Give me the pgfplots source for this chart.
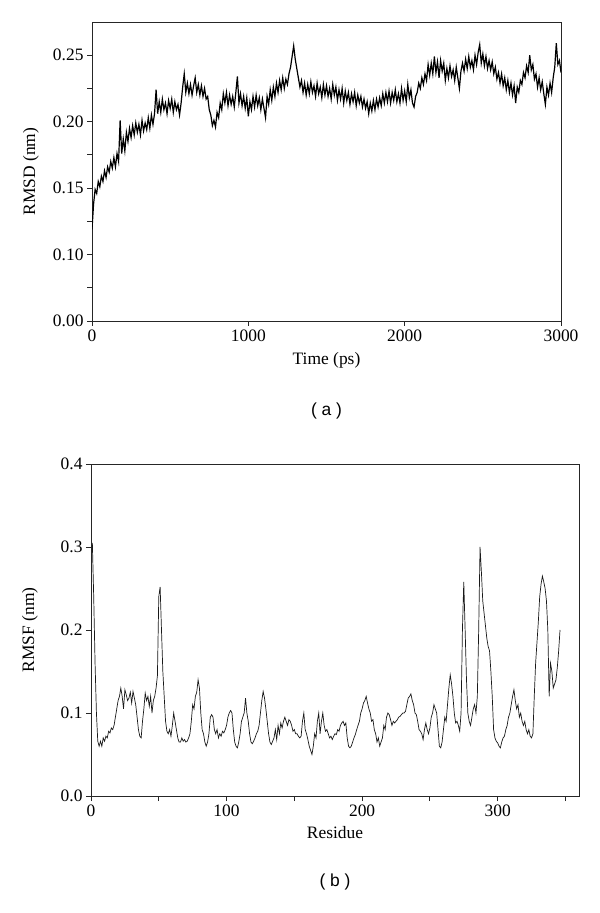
\documentclass[border=0pt]{standalone}
\usepackage{fontspec}
\setmainfont{Liberation Serif}
\newfontfamily\sansf{Liberation Sans}
\usepackage{pgfplots}
\pgfplotsset{compat=1.18}
\newcommand{\fs}{\fontsize{17.5}{20}\selectfont}
\pgfplotsset{
  myaxis/.style={
    scale only axis,
    axis line style={black!85, line width=0.9bp},
    tick style={black!85, line width=0.9bp},
    major tick length=5bp, minor tick length=5bp,
    tick align=outside, tick pos=left,
    tick label style={font=\fs},
    label style={font=\fs},
    /pgf/number format/assume math mode=true,
    /pgf/number format/1000 sep={},
    clip mode=individual,
  }
}
\begin{document}
\begin{tikzpicture}
\path[use as bounding box] (0,0) rectangle (600bp,913bp);
\begin{axis}[myaxis,
  at={(92bp,592bp)}, anchor=south west,
  width=469bp, height=299bp,
  xmin=0, xmax=3000, ymin=0.05, ymax=0.275,
  xtick={0,1000,2000,3000},
  ytick={0.05,0.10,0.15,0.20,0.25},
  yticklabels={0.00,0.10,0.15,0.20,0.25},
  minor ytick={0.075,0.125,0.175,0.225},
  xlabel={Time (ps)}, ylabel={RMSD (nm)},
  xlabel style={at={(axis description cs:0.5,-0.13)}, anchor=center},
  ylabel style={at={(axis description cs:-0.13,0.5)}, anchor=center},
]
\addplot[black, line width=1.2bp] coordinates {
(0,0.119)(10,0.138)(20,0.149)(30,0.146)(40,0.155)(50,0.151)(60,0.159)(70,0.155)(80,0.163)(90,0.158)
(100,0.166)(110,0.162)(120,0.170)(130,0.165)(140,0.173)(150,0.166)(160,0.176)(170,0.170)(180,0.201)(190,0.176)
(200,0.187)(210,0.178)(220,0.192)(230,0.185)(240,0.195)(250,0.188)(260,0.197)(270,0.190)(280,0.199)(290,0.192)
(300,0.198)(310,0.190)(320,0.201)(330,0.193)(340,0.199)(350,0.194)(360,0.203)(370,0.195)(380,0.205)(390,0.198)
(400,0.206)(410,0.224)(420,0.206)(430,0.215)(440,0.207)(450,0.217)(460,0.209)(470,0.214)(480,0.206)(490,0.216)
(500,0.210)(510,0.217)(520,0.207)(530,0.215)(540,0.209)(550,0.213)(560,0.205)(570,0.214)(580,0.226)(590,0.236)
(600,0.222)(610,0.229)(620,0.221)(630,0.228)(640,0.220)(650,0.227)(660,0.233)(670,0.222)(680,0.228)(690,0.220)
(700,0.227)(710,0.219)(720,0.225)(730,0.217)(740,0.219)(750,0.209)(760,0.205)(770,0.197)(780,0.201)(790,0.196)
(800,0.207)(810,0.203)(820,0.214)(830,0.209)(840,0.221)(850,0.214)(860,0.222)(870,0.212)(880,0.220)(890,0.213)
(900,0.219)(910,0.211)(920,0.222)(930,0.234)(940,0.214)(950,0.221)(960,0.212)(970,0.219)(980,0.210)(990,0.218)
(1000,0.204)(1010,0.215)(1020,0.209)(1030,0.219)(1040,0.211)(1050,0.220)(1060,0.212)(1070,0.218)(1080,0.209)(1090,0.217)
(1100,0.210)(1110,0.203)(1120,0.219)(1130,0.213)(1140,0.224)(1150,0.216)(1160,0.226)(1170,0.219)(1180,0.229)(1190,0.222)
(1200,0.231)(1210,0.224)(1220,0.233)(1230,0.225)(1240,0.232)(1250,0.228)(1260,0.236)(1270,0.241)(1280,0.249)(1290,0.257)
(1300,0.247)(1310,0.240)(1320,0.233)(1330,0.226)(1340,0.231)(1350,0.222)(1360,0.229)(1370,0.220)(1380,0.228)(1390,0.221)
(1400,0.230)(1410,0.222)(1420,0.227)(1430,0.219)(1440,0.229)(1450,0.221)(1460,0.226)(1470,0.218)(1480,0.228)(1490,0.220)
(1500,0.227)(1510,0.219)(1520,0.225)(1530,0.217)(1540,0.228)(1550,0.220)(1560,0.226)(1570,0.216)(1580,0.224)(1590,0.217)
(1600,0.225)(1610,0.214)(1620,0.223)(1630,0.216)(1640,0.222)(1650,0.213)(1660,0.221)(1670,0.215)(1680,0.222)(1690,0.212)
(1700,0.220)(1710,0.214)(1720,0.219)(1730,0.211)(1740,0.217)(1750,0.210)(1760,0.215)(1770,0.206)(1780,0.214)(1790,0.208)
(1800,0.216)(1810,0.209)(1820,0.217)(1830,0.211)(1840,0.218)(1850,0.212)(1860,0.221)(1870,0.214)(1880,0.222)(1890,0.215)
(1900,0.223)(1910,0.214)(1920,0.222)(1930,0.216)(1940,0.224)(1950,0.215)(1960,0.221)(1970,0.214)(1980,0.225)(1990,0.216)
(2000,0.223)(2010,0.215)(2020,0.228)(2030,0.218)(2040,0.224)(2050,0.214)(2060,0.211)(2070,0.219)(2080,0.222)(2090,0.229)
(2100,0.225)(2110,0.233)(2120,0.228)(2130,0.236)(2140,0.231)(2150,0.243)(2160,0.235)(2170,0.244)(2180,0.236)(2190,0.249)
(2200,0.237)(2210,0.245)(2220,0.233)(2230,0.246)(2240,0.238)(2250,0.244)(2260,0.231)(2270,0.240)(2280,0.233)(2290,0.242)
(2300,0.234)(2310,0.239)(2320,0.231)(2330,0.241)(2340,0.233)(2350,0.225)(2360,0.238)(2370,0.244)(2380,0.238)(2390,0.247)
(2400,0.240)(2410,0.249)(2420,0.241)(2430,0.246)(2440,0.239)(2450,0.250)(2460,0.243)(2470,0.252)(2480,0.258)(2490,0.244)
(2500,0.251)(2510,0.242)(2520,0.249)(2530,0.240)(2540,0.246)(2550,0.239)(2560,0.245)(2570,0.236)(2580,0.241)(2590,0.232)
(2600,0.237)(2610,0.229)(2620,0.236)(2630,0.227)(2640,0.233)(2650,0.224)(2660,0.231)(2670,0.222)(2680,0.229)(2690,0.220)
(2700,0.227)(2710,0.214)(2720,0.226)(2730,0.222)(2740,0.231)(2750,0.228)(2760,0.237)(2770,0.233)(2780,0.242)(2790,0.237)
(2800,0.250)(2810,0.239)(2820,0.243)(2830,0.232)(2840,0.236)(2850,0.226)(2860,0.233)(2870,0.224)(2880,0.230)(2890,0.221)
(2900,0.213)(2910,0.226)(2920,0.220)(2930,0.229)(2940,0.222)(2950,0.233)(2960,0.241)(2970,0.259)(2980,0.243)(2990,0.246)
(3000,0.237)
};
\node[font=\sansf\fs] at (axis description cs:0.5,-0.30) {( a )};
\end{axis}

\begin{axis}[myaxis,
  at={(91bp,117bp)}, anchor=south west,
  width=488bp, height=332bp,
  xmin=0, xmax=360, ymin=0, ymax=0.4,
  xtick={0,100,200,300},
  minor xtick={50,150,250,350},
  ytick={0,0.1,0.2,0.3,0.4},
  yticklabel style={/pgf/number format/fixed, /pgf/number format/fixed zerofill, /pgf/number format/precision=1},
  xlabel={Residue}, ylabel={RMSF (nm)},
  xlabel style={at={(axis description cs:0.5,-0.11)}, anchor=center},
  ylabel style={at={(axis description cs:-0.125,0.5)}, anchor=center},
]
\addplot[black!90, line width=0.7bp] coordinates {
(1,0.305)(2,0.24)(3,0.16)(4,0.10)(5,0.066)(6,0.060)(7,0.066)(8,0.060)(9,0.070)(10,0.066)
(11,0.072)(12,0.070)(13,0.078)(14,0.076)(15,0.082)(16,0.080)(17,0.085)(18,0.095)(19,0.105)(20,0.115)
(21,0.120)(22,0.130)(23,0.120)(24,0.105)(25,0.128)(26,0.122)(27,0.115)(28,0.118)(29,0.125)(30,0.112)
(31,0.126)(32,0.118)(33,0.110)(34,0.095)(35,0.080)(36,0.072)(37,0.070)(38,0.090)(39,0.105)(40,0.124)
(41,0.115)(42,0.120)(43,0.108)(44,0.120)(45,0.100)(46,0.115)(47,0.120)(48,0.130)(49,0.145)(50,0.240)
(51,0.252)(52,0.200)(53,0.150)(54,0.120)(55,0.090)(56,0.078)(57,0.075)(58,0.080)(59,0.072)(60,0.085)
(61,0.100)(62,0.090)(63,0.080)(64,0.070)(65,0.065)(66,0.065)(67,0.070)(68,0.066)(69,0.068)(70,0.065)
(71,0.066)(72,0.070)(73,0.075)(74,0.090)(75,0.110)(76,0.105)(77,0.120)(78,0.125)(79,0.140)(80,0.130)
(81,0.100)(82,0.080)(83,0.075)(84,0.065)(85,0.060)(86,0.065)(87,0.075)(88,0.095)(89,0.098)(90,0.095)
(91,0.080)(92,0.075)(93,0.080)(94,0.070)(95,0.075)(96,0.072)(97,0.078)(98,0.076)(99,0.080)(100,0.085)
(101,0.095)(102,0.100)(103,0.103)(104,0.100)(105,0.080)(106,0.065)(107,0.060)(108,0.058)(109,0.065)(110,0.075)
(111,0.090)(112,0.095)(113,0.100)(114,0.118)(115,0.100)(116,0.090)(117,0.075)(118,0.065)(119,0.063)(120,0.066)
(121,0.070)(122,0.075)(123,0.078)(124,0.085)(125,0.100)(126,0.115)(127,0.126)(128,0.118)(129,0.105)(130,0.090)
(131,0.075)(132,0.065)(133,0.062)(134,0.066)(135,0.070)(136,0.080)(137,0.068)(138,0.085)(139,0.075)(140,0.088)
(141,0.082)(142,0.090)(143,0.095)(144,0.090)(145,0.085)(146,0.092)(147,0.090)(148,0.085)(149,0.078)(150,0.080)
(151,0.075)(152,0.075)(153,0.072)(154,0.070)(155,0.072)(156,0.090)(157,0.100)(158,0.080)(159,0.075)(160,0.068)
(161,0.060)(162,0.055)(163,0.050)(164,0.060)(165,0.075)(166,0.070)(167,0.090)(168,0.100)(169,0.075)(170,0.090)
(171,0.100)(172,0.085)(173,0.078)(174,0.080)(175,0.075)(176,0.070)(177,0.072)(178,0.068)(179,0.072)(180,0.075)
(181,0.074)(182,0.080)(183,0.078)(184,0.085)(185,0.088)(186,0.090)(187,0.085)(188,0.088)(189,0.070)(190,0.060)
(191,0.058)(192,0.060)(193,0.065)(194,0.070)(195,0.074)(196,0.080)(197,0.085)(198,0.090)(199,0.100)(200,0.105)
(201,0.112)(202,0.115)(203,0.120)(204,0.112)(205,0.105)(206,0.100)(207,0.090)(208,0.092)(209,0.080)(210,0.075)
(211,0.065)(212,0.070)(213,0.060)(214,0.065)(215,0.070)(216,0.085)(217,0.080)(218,0.095)(219,0.100)(220,0.098)
(221,0.092)(222,0.085)(223,0.090)(224,0.088)(225,0.090)(226,0.092)(227,0.095)(228,0.096)(229,0.098)(230,0.100)
(231,0.100)(232,0.102)(233,0.110)(234,0.118)(235,0.120)(236,0.123)(237,0.115)(238,0.110)(239,0.100)(240,0.098)
(241,0.090)(242,0.080)(243,0.078)(244,0.075)(245,0.068)(246,0.080)(247,0.088)(248,0.080)(249,0.075)(250,0.082)
(251,0.095)(252,0.100)(253,0.110)(254,0.105)(255,0.100)(256,0.080)(257,0.060)(258,0.058)(259,0.065)(260,0.080)
(261,0.095)(262,0.090)(263,0.110)(264,0.130)(265,0.146)(266,0.135)(267,0.120)(268,0.100)(269,0.088)(270,0.090)
(271,0.085)(272,0.078)(273,0.100)(274,0.200)(275,0.258)(276,0.200)(277,0.140)(278,0.100)(279,0.090)(280,0.085)
(281,0.095)(282,0.105)(283,0.110)(284,0.100)(285,0.120)(286,0.200)(287,0.300)(288,0.270)(289,0.235)(290,0.220)
(291,0.205)(292,0.190)(293,0.180)(294,0.175)(295,0.150)(296,0.120)(297,0.080)(298,0.070)(299,0.066)(300,0.064)
(301,0.060)(302,0.058)(303,0.065)(304,0.070)(305,0.072)(306,0.080)(307,0.085)(308,0.095)(309,0.100)(310,0.110)
(311,0.120)(312,0.128)(313,0.115)(314,0.105)(315,0.110)(316,0.095)(317,0.100)(318,0.090)(319,0.085)(320,0.090)
(321,0.080)(322,0.075)(323,0.080)(324,0.072)(325,0.070)(326,0.075)(327,0.120)(328,0.160)(329,0.185)(330,0.210)
(331,0.240)(332,0.255)(333,0.265)(334,0.258)(335,0.250)(336,0.235)(337,0.200)(338,0.120)(339,0.160)(340,0.150)
(341,0.130)(342,0.135)(343,0.140)(344,0.155)(345,0.175)(346,0.200)
};
\node[font=\sansf\fs] at (axis description cs:0.5,-0.26) {( b )};
\end{axis}
\end{tikzpicture}
\end{document}
